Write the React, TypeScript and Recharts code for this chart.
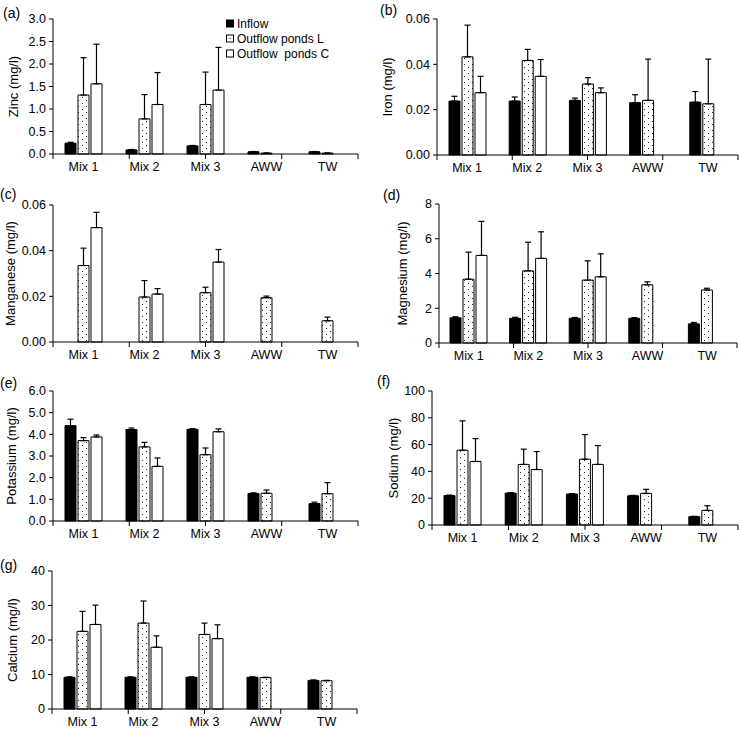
import { BarChart, Bar, XAxis, YAxis, ErrorBar, Legend } from 'recharts';

const categories = ['Mix 1', 'Mix 2', 'Mix 3', 'AWW', 'TW'];
const seriesNames = ['Inflow', 'Outflow ponds L', 'Outflow  ponds C'];

// each panel: rows are [inflow, ponds L, ponds C], error is the upper SD only
const zincMeans = [
  [0.24, 0.09, 0.18, 0.05, 0.05],
  [1.31, 0.78, 1.1, 0.02, 0.02],
  [1.56, 1.1, 1.42, null, null],
];
const zincErrors = [
  [0.02, 0.01, 0.01, 0.005, 0.005],
  [0.83, 0.54, 0.72, 0, 0],
  [0.88, 0.71, 0.95, null, null],
];
const zincTicks = [0, 0.5, 1, 1.5, 2, 2.5, 3];

const ironMeans = [
  [0.0238, 0.0238, 0.0241, 0.0231, 0.0233],
  [0.0433, 0.0417, 0.0313, 0.0241, 0.0226],
  [0.0275, 0.0347, 0.0275, null, null],
];
const ironErrors = [
  [0.0021, 0.0018, 0.001, 0.0035, 0.0047],
  [0.014, 0.0049, 0.0028, 0.0182, 0.0197],
  [0.0072, 0.0074, 0.0021, null, null],
];
const ironTicks = [0, 0.02, 0.04, 0.06];

const manganeseMeans = [
  [null, null, null, null, null],
  [0.0335, 0.0197, 0.0216, 0.0194, 0.0093],
  [0.0501, 0.021, 0.035, null, null],
];
const manganeseErrors = [
  [null, null, null, null, null],
  [0.0076, 0.0072, 0.0024, 0.0007, 0.0016],
  [0.0067, 0.0024, 0.0055, null, null],
];
const manganeseTicks = [0, 0.02, 0.04, 0.06];

const magnesiumMeans = [
  [1.45, 1.42, 1.42, 1.42, 1.1],
  [3.67, 4.15, 3.62, 3.35, 3.05],
  [5.04, 4.87, 3.81, null, null],
];
const magnesiumErrors = [
  [0.06, 0.06, 0.05, 0.04, 0.08],
  [1.56, 1.65, 1.11, 0.17, 0.1],
  [1.96, 1.53, 1.32, null, null],
];
const magnesiumTicks = [0, 2, 4, 6, 8];

const potassiumMeans = [
  [4.4, 4.22, 4.23, 1.27, 0.8],
  [3.71, 3.42, 3.06, 1.28, 1.26],
  [3.88, 2.52, 4.12, null, null],
];
const potassiumErrors = [
  [0.3, 0.07, 0.03, 0.03, 0.07],
  [0.14, 0.21, 0.31, 0.15, 0.51],
  [0.09, 0.39, 0.13, null, null],
];
const potassiumTicks = [0, 1, 2, 3, 4, 5, 6];

const sodiumMeans = [
  [22, 23.8, 23.1, 21.8, 6.2],
  [55.8, 45.2, 49.1, 23.6, 10.9],
  [47.4, 41.4, 45.2, null, null],
];
const sodiumErrors = [
  [0.3, 0.3, 0.3, 0.3, 0.3],
  [21.9, 11.4, 18.4, 3.0, 3.5],
  [17.1, 13.4, 14.1, null, null],
];
const sodiumTicks = [0, 20, 40, 60, 80, 100];

const calciumMeans = [
  [9.2, 9.2, 9.2, 9.2, 8.3],
  [22.5, 24.9, 21.6, 9.1, 8.2],
  [24.5, 17.9, 20.4, null, null],
];
const calciumErrors = [
  [0.1, 0.1, 0.1, 0.1, 0.1],
  [5.8, 6.4, 3.3, 0.1, 0.1],
  [5.6, 3.3, 4.0, null, null],
];
const calciumTicks = [0, 10, 20, 30, 40];

const FONT = '"Liberation Sans", Arial, sans-serif';
const keys = ['inflow', 'pondsL', 'pondsC'];

function buildRows(means: (number | null)[][], errors: (number | null)[][]) {
  return categories.map((name, i) => {
    const row: any = { name };
    keys.forEach((k, s) => {
      row[k] = means[s][i];
      row[k + 'Err'] = errors[s][i] == null ? null : [0, errors[s][i]];
    });
    return row;
  });
}

function renderLegend() {
  return (
    <div style={{ fontFamily: FONT, fontSize: 12, color: '#000' }}>
      {seriesNames.map((n, i) => (
        <div key={n} style={{ display: 'flex', alignItems: 'center', height: 15 }}>
          <svg width={9} height={9} style={{ marginRight: 2 }}>
            <rect x={0.5} y={1} width={7} height={7} fill={i === 0 ? '#000' : '#fff'} stroke="#000" />
            {i === 1 && <rect x={3.5} y={4} width={1} height={1} fill="#000" />}
          </svg>
          <span style={{ whiteSpace: 'pre' }}>{n}</span>
        </div>
      ))}
    </div>
  );
}

interface PanelProps {
  id: string;
  title: string;
  means: (number | null)[][];
  errors: (number | null)[][];
  ticks: number[];
  decimals: number;
  left: number;
  top: number;
  width: number;
  plot: [number, number, number, number];
  titleX: number;
  letterX: number;
  letterY: number;
  legend?: boolean;
}

function Panel(p: PanelProps) {
  const [x0, x1, y0, y1] = p.plot;
  const height = y1 + 28 - p.top;
  const data = buildRows(p.means, p.errors);
  const dots = `dots-${p.id}`;
  const fills = ['#000', `url(#${dots})`, '#fff'];
  const tickStyle = { fill: '#000', fontSize: 12.5, fontFamily: FONT };

  return (
    <>
      <div style={{ position: 'absolute', left: p.letterX, top: p.letterY - 9, fontFamily: FONT, fontSize: 14, lineHeight: '18px' }}>
        ({p.id})
      </div>
      <div style={{ position: 'absolute', left: p.left, top: p.top }}>
        <BarChart
          width={p.width}
          height={height}
          data={data}
          barSize={11}
          barGap={2}
          margin={{ top: y0 - p.top, right: p.left + p.width - x1, bottom: 3, left: 0 }}
        >
          <defs>
            <pattern id={dots} width={8} height={6} patternUnits="userSpaceOnUse">
              <rect width={8} height={6} fill="#fff" />
              <rect x={2} y={1} width={1} height={1} fill="#222" />
              <rect x={6} y={4} width={1} height={1} fill="#222" />
            </pattern>
          </defs>
          <XAxis
            xAxisId="b"
            dataKey="name"
            type="category"
            height={20}
            axisLine={false}
            tickLine={false}
            tickSize={0}
            tickMargin={3}
            interval={0}
            tick={tickStyle}
          />
          <XAxis
            xAxisId="a"
            type="number"
            domain={[0, 5]}
            ticks={[0, 1, 2, 3, 4, 5]}
            interval={0}
            height={5}
            tickSize={5}
            tickFormatter={() => ''}
            axisLine={{ stroke: '#000' }}
            tickLine={{ stroke: '#000' }}
            allowDataOverflow
          />
          <YAxis
            type="number"
            width={x0 - p.left}
            domain={[0, p.ticks[p.ticks.length - 1]]}
            ticks={p.ticks}
            interval={0}
            tickSize={4}
            tickMargin={3}
            tickFormatter={(v: number) => v.toFixed(p.decimals)}
            axisLine={{ stroke: '#000' }}
            tickLine={{ stroke: '#000' }}
            tick={tickStyle}
            label={(lp: any) => {
              const vb = lp.viewBox || {};
              const cx = p.titleX - p.left;
              const cy = (vb.y ?? 0) + (vb.height ?? 0) / 2;
              return (
                <text x={cx} y={cy} transform={`rotate(-90, ${cx}, ${cy})`} textAnchor="middle" dominantBaseline="central"
                  fontSize={13} fontFamily={FONT} fill="#000">
                  {p.title}
                </text>
              );
            }}
          />
          {keys.map((k, s) => (
            <Bar key={k} xAxisId="b" dataKey={k} name={seriesNames[s]} fill={fills[s]} stroke="#000" strokeWidth={1} isAnimationActive={false}>
              <ErrorBar dataKey={k + 'Err'} direction="y" width={3} stroke="#000" strokeWidth={1.2} isAnimationActive={false} />
            </Bar>
          ))}
          {p.legend && (
            <Legend layout="vertical" align="center" verticalAlign="middle" wrapperStyle={{ left: 226, top: 16, width: 140 }} content={renderLegend} />
          )}
        </BarChart>
      </div>
    </>
  );
}

export default function App() {
  return (
    <div style={{ position: 'absolute', left: 0, top: 0, width: 739, height: 733, background: '#fff', overflow: 'hidden' }}>
      <Panel id="a" title="Zinc (mg/l)" means={zincMeans} errors={zincErrors} ticks={zincTicks} decimals={1}
        left={0} top={0} width={365} plot={[53, 358, 19, 154]} titleX={13} letterX={3} letterY={13} legend />
      <Panel id="b" title="Iron (mg/l)" means={ironMeans} errors={ironErrors} ticks={ironTicks} decimals={2}
        left={370} top={0} width={369} plot={[437, 738, 19, 155]} titleX={387} letterX={380} letterY={10} />
      <Panel id="c" title="Manganese (mg/l)" means={manganeseMeans} errors={manganeseErrors} ticks={manganeseTicks} decimals={2}
        left={0} top={180} width={365} plot={[53, 358, 205, 342]} titleX={10} letterX={0} letterY={194} />
      <Panel id="d" title="Magnesium (mg/l)" means={magnesiumMeans} errors={magnesiumErrors} ticks={magnesiumTicks} decimals={0}
        left={370} top={180} width={369} plot={[439, 737, 204, 343]} titleX={402} letterX={383} letterY={195} />
      <Panel id="e" title="Potassium (mg/l)" means={potassiumMeans} errors={potassiumErrors} ticks={potassiumTicks} decimals={1}
        left={0} top={360} width={365} plot={[53, 358, 391, 521]} titleX={11} letterX={0} letterY={383} />
      <Panel id="f" title="Sodium (mg/l)" means={sodiumMeans} errors={sodiumErrors} ticks={sodiumTicks} decimals={0}
        left={370} top={360} width={369} plot={[432, 738, 391, 525]} titleX={393} letterX={377} letterY={381} />
      <Panel id="g" title="Calcium (mg/l)" means={calciumMeans} errors={calciumErrors} ticks={calciumTicks} decimals={0}
        left={0} top={540} width={365} plot={[52, 357, 571, 709]} titleX={12} letterX={0} letterY={565} />
    </div>
  );
}
